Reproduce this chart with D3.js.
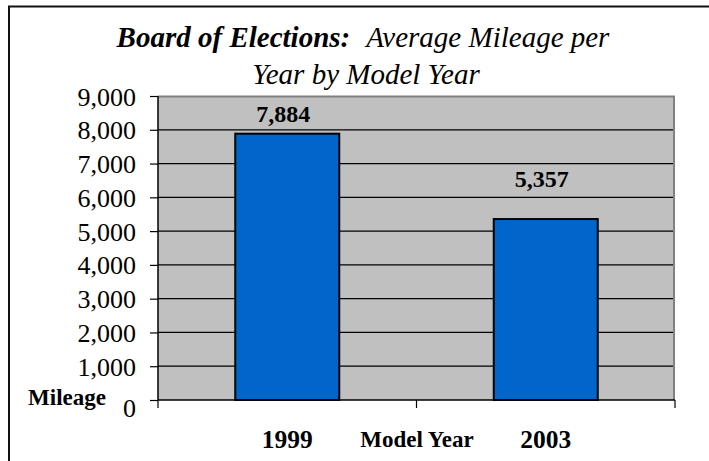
<!DOCTYPE html>
<html>
<head>
<meta charset="utf-8">
<script src="https://cdn.jsdelivr.net/npm/d3@7"></script>
<style>
  html, body { margin: 0; padding: 0; background: #fff; }
  svg { display: block; }
  text { font-family: "Liberation Serif", "Times New Roman", serif; fill: #000; }
</style>
</head>
<body>
<svg id="chart" width="709" height="461"></svg>
<script>
// Average mileage per year, by vehicle model year
const categories = ["1999", "2003"];
const mileage = [7884, 5357];
const yTicks = [0, 1000, 2000, 3000, 4000, 5000, 6000, 7000, 8000, 9000];
const titleBold = "Board of Elections:";
const titleRest = "Average Mileage per";
const titleLine2 = "Year by Model Year";
const xAxisTitle = "Model Year";
const yAxisTitle = "Mileage";

const svg = d3.select("#chart");
const W = 709, H = 461;
const plot = { left: 158, right: 675, top: 96, bottom: 400 };
const labelGap = [12, 32];    // distance of each value label above its bar
const labelShift = -4;        // value labels sit slightly left of bar centre

// outer chart frame (runs past the right and bottom edges)
svg.append("rect")
  .attr("x", 9).attr("y", 6.5)
  .attr("width", W).attr("height", H)
  .attr("fill", "#fff").attr("stroke", "#111").attr("stroke-width", 2);

const xb = d3.scaleBand().domain(categories).range([plot.left, plot.right]);
const y = d3.scaleLinear().domain([0, 9000]).range([plot.bottom, plot.top]);
const cx = d => xb(d) + xb.bandwidth() / 2;

// plot background
svg.append("rect")
  .attr("x", plot.left).attr("y", plot.top)
  .attr("width", plot.right - plot.left).attr("height", plot.bottom - plot.top)
  .attr("fill", "#c0c0c0");
// gray frame on top and right
svg.append("path")
  .attr("d", `M${plot.left},${plot.top + 0.5}H${plot.right - 1}V${plot.bottom}`)
  .attr("fill", "none").attr("stroke", "#808080").attr("stroke-width", 2);

// horizontal gridlines
svg.append("g").selectAll("line")
  .data(yTicks.filter(d => d > 0 && d < 9000))
  .join("line")
  .attr("x1", plot.left).attr("x2", plot.right - 2)
  .attr("y1", d => y(d)).attr("y2", d => y(d))
  .attr("stroke", "#000").attr("stroke-width", 1.3);

// bars
const bw = 104;
svg.append("g").selectAll("rect")
  .data(categories)
  .join("rect")
  .attr("x", d => cx(d) - bw / 2)
  .attr("y", (d, i) => y(mileage[i]))
  .attr("width", bw)
  .attr("height", (d, i) => y(0) - y(mileage[i]))
  .attr("fill", "#0066cc").attr("stroke", "#000").attr("stroke-width", 2);

// value labels
svg.append("g").selectAll("text")
  .data(categories)
  .join("text")
  .attr("x", d => cx(d) + labelShift)
  .attr("y", (d, i) => y(mileage[i]) - labelGap[i])
  .attr("text-anchor", "middle")
  .attr("font-size", 24).attr("font-weight", "bold")
  .text((d, i) => d3.format(",")(mileage[i]));

// y axis
const yAxis = d3.axisLeft(y).tickValues(yTicks).tickFormat(d3.format(",")).tickSize(8).tickPadding(14);
const gy = svg.append("g").attr("transform", `translate(${plot.left},0)`).call(yAxis);
gy.select(".domain").attr("stroke", "#000").attr("stroke-width", 1.5).attr("d", `M0,${plot.top}V${plot.bottom}`);
gy.selectAll(".tick line").attr("stroke", "#000").attr("stroke-width", 1.2);
gy.selectAll(".tick text")
  .style("font-family", "'Liberation Serif', serif").attr("font-size", 26)
  .attr("x", -22).attr("dy", null)
  .attr("y", d => d === 0 ? 16 : 9);

// x axis: ticks at the category boundaries
const gx = svg.append("g");
gx.append("line")
  .attr("x1", plot.left).attr("x2", plot.right)
  .attr("y1", plot.bottom).attr("y2", plot.bottom)
  .attr("stroke", "#000").attr("stroke-width", 1.5);
const bounds = categories.map(c => xb(c)).concat([xb(categories[categories.length - 1]) + xb.bandwidth()]);
gx.selectAll("line.tk").data(bounds).join("line").attr("class", "tk")
  .attr("x1", d => d).attr("x2", d => d)
  .attr("y1", plot.bottom).attr("y2", plot.bottom + 8)
  .attr("stroke", "#000").attr("stroke-width", 1.2);
gx.selectAll("text").data(categories).join("text")
  .attr("x", cx).attr("y", 448)
  .attr("text-anchor", "middle")
  .attr("font-size", 25.5).attr("font-weight", "bold")
  .text(d => d);

// axis titles
svg.append("text")
  .attr("x", 417).attr("y", 447)
  .attr("text-anchor", "middle").attr("font-size", 23).attr("font-weight", "bold")
  .text(xAxisTitle);
svg.append("text")
  .attr("x", 106).attr("y", 405)
  .attr("text-anchor", "end").attr("font-size", 23).attr("font-weight", "bold")
  .text(yAxisTitle);

// title
const t1 = svg.append("text")
  .attr("x", 363).attr("y", 47)
  .attr("text-anchor", "middle").attr("font-size", 29).attr("font-style", "italic");
t1.append("tspan").attr("font-weight", "bold").text(titleBold);
t1.append("tspan").attr("dx", 16).text(titleRest);
svg.append("text")
  .attr("x", 366).attr("y", 84)
  .attr("text-anchor", "middle").attr("font-size", 29).attr("font-style", "italic")
  .text(titleLine2);
</script>
</body>
</html>
